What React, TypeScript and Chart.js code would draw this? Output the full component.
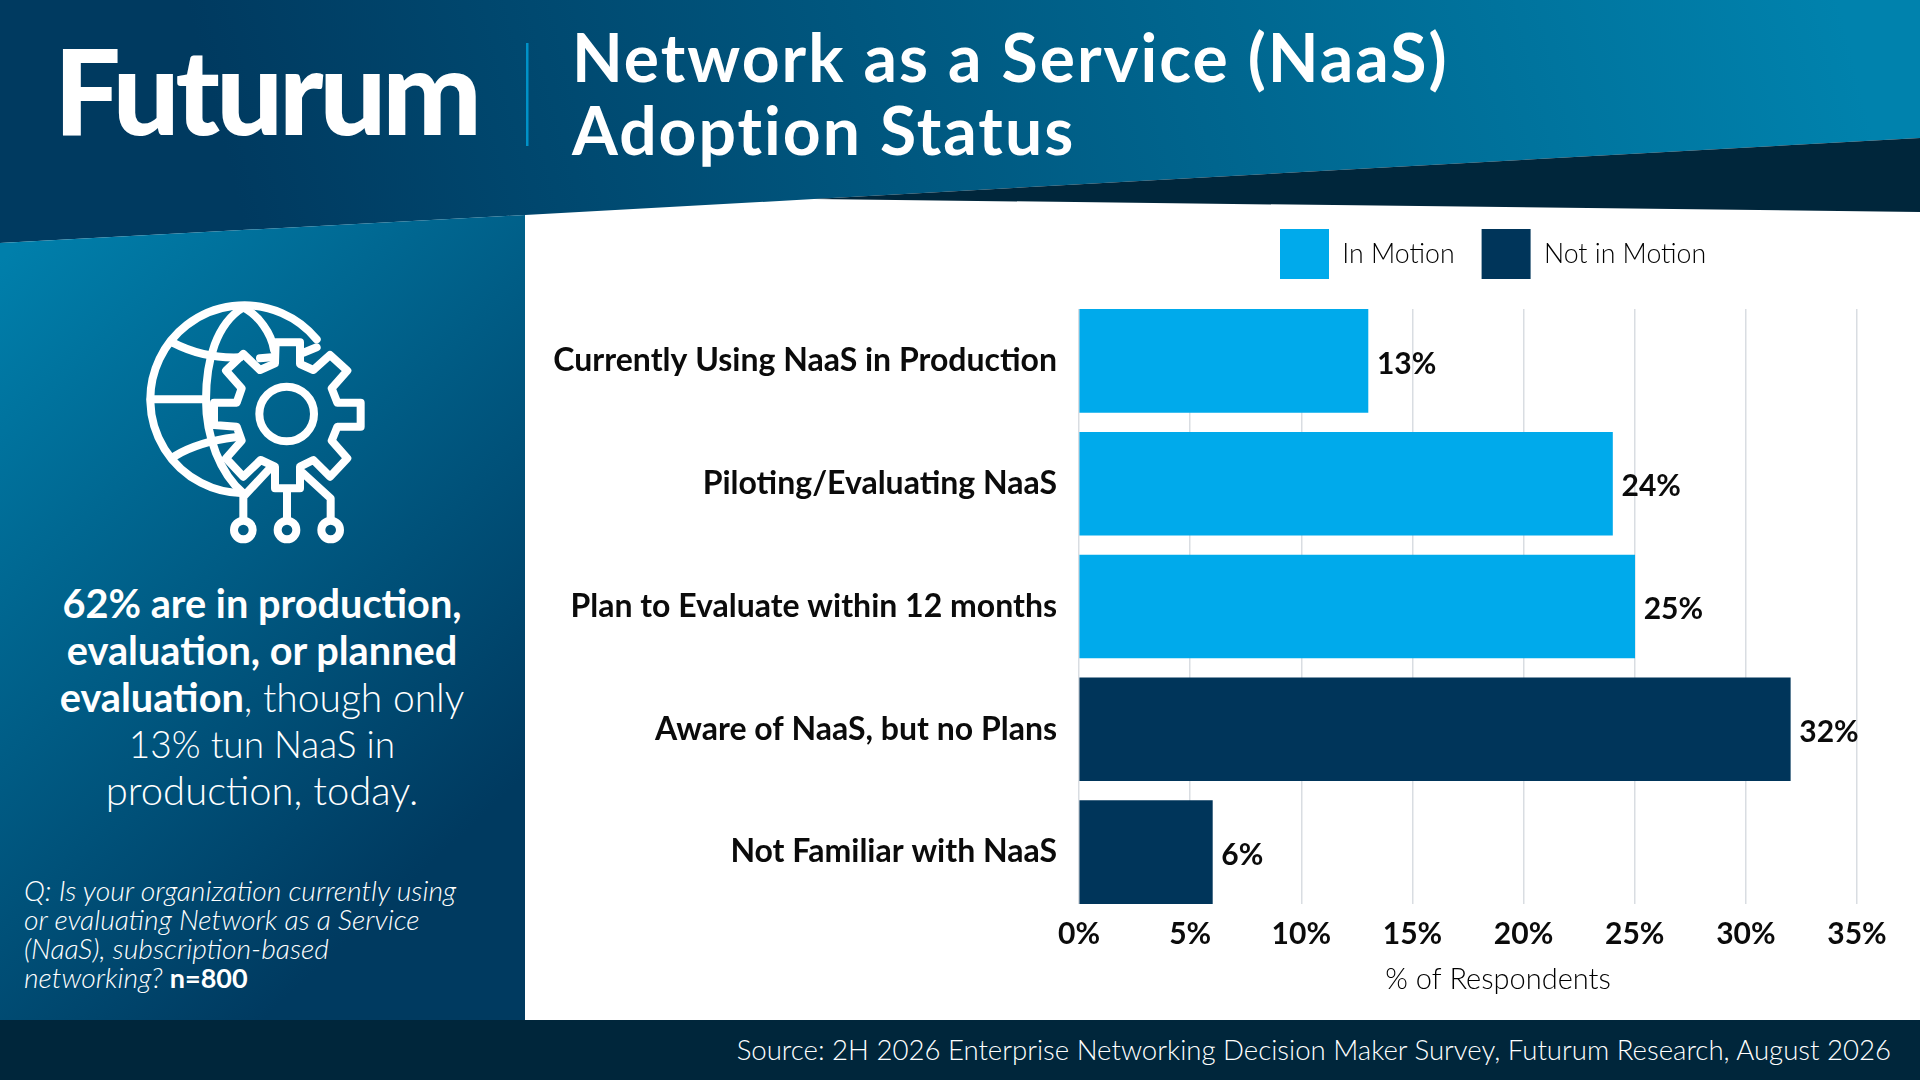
import React, { useEffect, useRef } from "react";
import { Chart, registerables } from "chart.js";

Chart.register(...registerables);

const categories = [
  "Currently Using NaaS in Production",
  "Piloting/Evaluating NaaS",
  "Plan to Evaluate within 12 months",
  "Aware of NaaS, but no Plans",
  "Not Familiar with NaaS",
];
const inMotionValues = [13, 24, 25, null, null];
const notInMotionValues = [null, null, null, 32, 6];
const xTicks = [0, 5, 10, 15, 20, 25, 30, 35];

const FONT = "Lato, sans-serif";
const BLACK = "#0b0b0b";

const toPoints = (vals: (number | null)[]) =>
  vals.map((v, i) => ({ x: v, y: i })).filter((p) => p.x !== null);

const valueLabels = {
  id: "valueLabels",
  afterDatasetsDraw(chart: any) {
    const { ctx } = chart;
    ctx.save();
    ctx.font = `700 30px ${FONT}`;
    ctx.fillStyle = BLACK;
    ctx.textBaseline = "middle";
    ctx.textAlign = "left";
    chart.data.datasets.forEach((ds: any, di: number) => {
      chart.getDatasetMeta(di).data.forEach((bar: any, i: number) => {
        ctx.fillText(`${ds.data[i].x}%`, bar.x + 9, bar.y + 3);
      });
    });
    ctx.restore();
  },
};

const legendPlacement = {
  id: "legendPlacement",
  beforeLayout(chart: any) {
    const lg = chart.legend;
    if (lg && !lg.__patched) {
      const fit = lg.fit.bind(lg);
      lg.fit = function () {
        fit();
        this.height += 20;
      };
      lg.__patched = true;
    }
  },
  afterLayout(chart: any) {
    chart.legend.left = 728;
  },
};

function BarChart() {
  const ref = useRef<HTMLCanvasElement>(null);
  useEffect(() => {
    const chart = new Chart(ref.current!, {
      type: "bar",
      plugins: [valueLabels, legendPlacement],
      data: {
        datasets: [
          {
            label: "In Motion",
            data: toPoints(inMotionValues),
            backgroundColor: "#00AAEB",
            barThickness: 103,
            grouped: false,
          },
          {
            label: "Not in Motion",
            data: toPoints(notInMotionValues),
            backgroundColor: "#00355A",
            barThickness: 103,
            grouped: false,
          },
        ] as any,
      },
      options: {
        indexAxis: "y",
        animation: false,
        responsive: false,
        devicePixelRatio: 1,
        layout: { padding: { top: 2, right: 3, left: 0, bottom: 0 } },
        plugins: {
          tooltip: { enabled: false },
          legend: {
            position: "top",
            align: "start",
            labels: {
              boxWidth: 49,
              boxHeight: 50,
              padding: 27,
              color: "#000",
              font: { family: FONT, size: 26.7, weight: "300" },
            },
          },
        },
        scales: {
          x: {
            type: "linear",
            bounds: "data",
            min: 0,
            max: 37.7,
            position: "bottom",
            afterFit(s: any) {
              s.height = 115;
            },
            afterBuildTicks(s: any) {
              s.ticks = xTicks.map((value) => ({ value }));
            },
            grid: { color: "#d9dde2", lineWidth: 1.5, drawTicks: false },
            border: { display: false },
            ticks: {
              padding: 12,
              color: BLACK,
              autoSkip: false,
              maxRotation: 0,
              font: { family: FONT, size: 30, weight: "700" },
              callback: (v: any) => `${v}%`,
            },
            title: {
              display: true,
              text: "% of Respondents",
              color: "#000",
              font: { family: FONT, size: 29, weight: "300" },
              padding: { top: 0, bottom: 22 },
            },
          },
          y: {
            type: "linear",
            offset: false,
            bounds: "data",
            reverse: true,
            min: -0.423,
            max: 4.423,
            afterFit(s: any) {
              s.width = 554;
            },
            afterBuildTicks(s: any) {
              s.ticks = categories.map((_, value) => ({ value }));
            },
            grid: { display: false, offset: false },
            border: { display: false },
            ticks: {
              padding: 14,
              color: BLACK,
              autoSkip: false,
              font: { family: FONT, size: 32, weight: "700" },
              callback: (v: any) => categories[v as number],
            },
          },
        },
      } as any,
    });
    return () => chart.destroy();
  }, []);
  return (
    <canvas
      ref={ref}
      width={1395}
      height={819}
      style={{ position: "absolute", left: 525, top: 200, width: 1395, height: 819 }}
    />
  );
}

function Background() {
  return (
    <svg width={1920} height={1080} style={{ position: "absolute", left: 0, top: 0 }}>
      <defs>
        <linearGradient id="hd" gradientUnits="userSpaceOnUse" x1={250} y1={250} x2={1800} y2={-150}>
          <stop offset="0" stopColor="#003a60" />
          <stop offset="1" stopColor="#0082ad" />
        </linearGradient>
        <linearGradient id="pn" gradientUnits="userSpaceOnUse" x1={0} y1={260} x2={500} y2={800}>
          <stop offset="0" stopColor="#007fab" />
          <stop offset="1" stopColor="#003a60" />
        </linearGradient>
      </defs>
      <rect x={0} y={0} width={1920} height={1080} fill="#ffffff" />
      <polygon points="0,0 1920,0 1920,138 814,199 525,215 0,243" fill="url(#hd)" />
      <polygon points="814,199 1920,138 1920,212" fill="#00263b" />
      <polygon points="0,243 525,215 525,1020 0,1020" fill="url(#pn)" />
      <rect x={0} y={1020} width={1920} height={60} fill="#00263b" />
      <rect x={526} y={43} width={2.5} height={103} fill="#0092c8" />
    </svg>
  );
}

function Icon() {
  const s = { fill: "none", stroke: "#fff", strokeWidth: 24, strokeLinejoin: "round", strokeLinecap: "round" } as any;
  return (
    <svg viewBox="0 0 960 840" width={320} height={280} style={{ position: "absolute", left: 100, top: 280 }}>
      <g {...s}>
        <path d="M650 178 A282 282 0 1 0 430 640" />
        <path d="M430 82 C350 130 318 240 318 360 C318 470 360 580 430 640" />
        <path d="M430 82 C475 105 515 160 522 210" />
        <path d="M152 358 H305" />
        <path d="M218 188 C280 220 350 235 420 232 M480 235 L515 232" />
        <path d="M225 528 C280 495 340 480 405 472" />
        <path d="M610 218 L650 202" />
        <path d="M527 187 H600 V252 L640 270 L690 225 L742 272 L695 325 L712 368 H782 V440 H712 L695 482 L742 535 L690 590 L640 540 L600 560 V625 H525 V560 L482 540 L430 590 L378 535 L425 482 L410 440 L342 435 V368 H410 L425 325 L378 272 L430 222 L480 270 L525 250 Z" />
        <circle cx={560} cy={402} r={82} />
        <path d="M505 570 L430 650 V715" />
        <circle cx={430} cy={750} r={28} />
        <path d="M561 630 V715" />
        <circle cx={561} cy={750} r={28} />
        <path d="M610 580 L692 655 V715" />
        <circle cx={692} cy={750} r={28} />
      </g>
    </svg>
  );
}

const abs = (o: any) => ({ position: "absolute", fontFamily: FONT, color: "#fff", whiteSpace: "nowrap", ...o } as any);
const Line = ({ children, size = 39 }: any) => <div style={{ height: 47, lineHeight: "47px", fontSize: size }}>{children}</div>;
const B = ({ children }: any) => <b style={{ fontWeight: 700, fontSize: 39.7 }}>{children}</b>;

export default function App() {
  useEffect(() => {
    document.body.style.margin = "0";
    document.documentElement.style.overflow = "hidden";
  }, []);
  return (
    <div style={{ position: "absolute", left: 0, top: 0, width: 1920, height: 1080, overflow: "hidden", background: "#fff" }}>
      <Background />
      <div style={abs({ left: 54, top: 20, fontSize: 118, fontWeight: 900, lineHeight: "140px", letterSpacing: -4 })}>Futurum</div>
      <div style={abs({ left: 572, top: 20, fontSize: 66, fontWeight: 700, lineHeight: "73px", letterSpacing: 2 })}>
        Network as a Service (NaaS)
        <br />
        Adoption Status
      </div>
      <Icon />
      <div style={abs({ left: 40, top: 579, width: 444, textAlign: "center", fontWeight: 300 })}>
        <Line><B>62% are in production,</B></Line>
        <Line><B>evaluation, or planned</B></Line>
        <Line><B>evaluation</B>, though only</Line>
        <Line size={37}>13% tun NaaS in</Line>
        <Line size={40}>production, today.</Line>
      </div>
      <div style={abs({ left: 24, top: 876, fontSize: 28.3, fontWeight: 300, fontStyle: "italic", lineHeight: "29px" })}>
        Q: Is your organization currently using
        <br />
        or evaluating Network as a Service
        <br />
        (NaaS), subscription-based
        <br />
        networking? <b style={{ fontWeight: 700, fontStyle: "normal", fontSize: 27 }}>n=800</b>
      </div>
      <BarChart />
      <div style={abs({ right: 29, top: 1034, fontSize: 27.6, fontWeight: 300, lineHeight: "32px" })}>
        Source: 2H 2026 Enterprise Networking Decision Maker Survey, Futurum Research, August 2026
      </div>
    </div>
  );
}
